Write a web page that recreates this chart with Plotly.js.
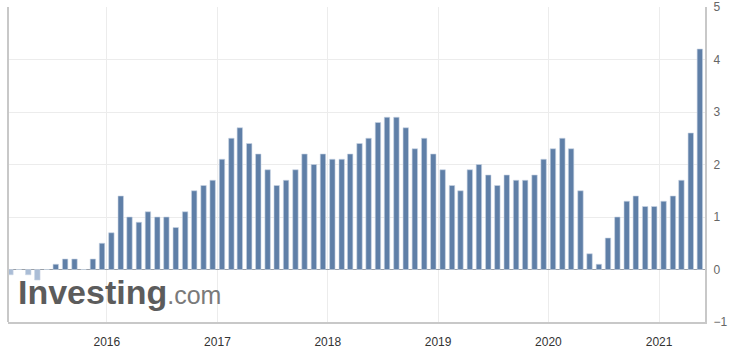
<!DOCTYPE html>
<html><head><meta charset="utf-8">
<script src="https://cdn.plot.ly/plotly-3.0.1.min.js"></script>
<style>html,body{margin:0;padding:0;background:#fff}#chart{width:736px;height:359px}</style>
</head><body><div id="chart"></div>
<script>
// Release months (bars plotted at release date, mid-month)
const releaseMonths = [
 "2015-02","2015-03","2015-04","2015-05","2015-06","2015-07","2015-08","2015-09","2015-10","2015-11","2015-12",
 "2016-01","2016-02","2016-03","2016-04","2016-05","2016-06","2016-07","2016-08","2016-09","2016-10","2016-11","2016-12",
 "2017-01","2017-02","2017-03","2017-04","2017-05","2017-06","2017-07","2017-08","2017-09","2017-10","2017-11","2017-12",
 "2018-01","2018-02","2018-03","2018-04","2018-05","2018-06","2018-07","2018-08","2018-09","2018-10","2018-11","2018-12",
 "2019-01","2019-02","2019-03","2019-04","2019-05","2019-06","2019-07","2019-08","2019-09","2019-10","2019-11","2019-12",
 "2020-01","2020-02","2020-03","2020-04","2020-05","2020-06","2020-07","2020-08","2020-09","2020-10","2020-11","2020-12",
 "2021-01","2021-02","2021-03","2021-04","2021-05"
];
const values = [
 -0.1,0.0,-0.1,-0.2,0.0,0.1,0.2,0.2,0.0,0.2,0.5,
 0.7,1.4,1.0,0.9,1.1,1.0,1.0,0.8,1.1,1.5,1.6,1.7,
 2.1,2.5,2.7,2.4,2.2,1.9,1.6,1.7,1.9,2.2,2.0,2.2,
 2.1,2.1,2.2,2.4,2.5,2.8,2.9,2.9,2.7,2.3,2.5,2.2,
 1.9,1.6,1.5,1.9,2.0,1.8,1.6,1.8,1.7,1.7,1.8,2.1,
 2.3,2.5,2.3,1.5,0.3,0.1,0.6,1.0,1.3,1.4,1.2,1.2,
 1.3,1.4,1.7,2.6,4.2
];
const yTicks = [-1,0,1,2,3,4,5];
const xTickDates = ["2016-01-01","2017-01-01","2018-01-01","2019-01-01","2020-01-01","2021-01-01"];
const xTickLabels = ["2016","2017","2018","2019","2020","2021"];

const xs = releaseMonths.map(m => m + "-16");
const colors = values.map(v => v < 0 ? "#aabdd6" : "#5f7fa7");

Plotly.newPlot("chart", [{
  type: "bar",
  x: xs,
  y: values,
  width: 18 * 86400000,
  marker: {color: colors, line: {color: "#c9d5e4", width: 0.6}},
  hoverinfo: "skip"
}], {
  width: 736, height: 359,
  margin: {l: 8, r: 31, t: 7, b: 37},
  paper_bgcolor: "#fff", plot_bgcolor: "#fff",
  showlegend: false,
  bargap: 0,
  xaxis: {
    type: "date",
    range: ["2015-02-08", "2021-06-02"],
    tickvals: xTickDates, ticktext: xTickLabels,
    showgrid: true, gridcolor: "#ececec", gridwidth: 1,
    showline: true, linecolor: "#c8c8c8", linewidth: 2, mirror: false,
    ticks: "", tickfont: {family: "Arial, Liberation Sans, sans-serif", size: 12, color: "#333"},
    ticklabelstandoff: 8,
    zeroline: false, fixedrange: true
  },
  yaxis: {
    side: "right",
    range: [-1, 5],
    tickvals: yTicks,
    showgrid: true, gridcolor: "#ececec", gridwidth: 1,
    showline: true, linecolor: "#c8c8c8", linewidth: 2,
    zeroline: true, zerolinecolor: "#9aa0a8", zerolinewidth: 1,
    ticks: "", ticklabeloverflow: "allow",
    tickfont: {family: "Arial, Liberation Sans, sans-serif", size: 12, color: "#666"},
    ticklabelstandoff: 4, fixedrange: true
  },
  shapes: [
    {type: "line", xref: "paper", yref: "paper", x0: 0, x1: 0, y0: 0, y1: 1, line: {color: "#c8c8c8", width: 2}}
  ],
  annotations: [
    {xref: "paper", yref: "paper", x: 0.012, y: 0.03, xanchor: "left", yanchor: "bottom",
     text: "<b>Investing</b><span style='font-size:25px;color:#7a7a7a'>.com</span>",
     showarrow: false, font: {family: "Arial, Liberation Sans, sans-serif", size: 34, color: "#5c5c5c"}}
  ]
}, {displayModeBar: false, staticPlot: true});
</script>
</body></html>
